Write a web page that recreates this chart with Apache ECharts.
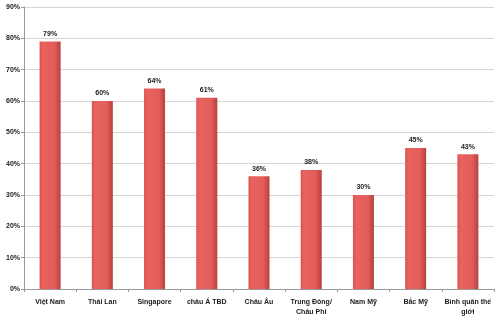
<!DOCTYPE html>
<html><head><meta charset="utf-8">
<script src="https://cdn.jsdelivr.net/npm/echarts@6/dist/echarts.min.js"></script>
<style>html,body{margin:0;padding:0;background:#fff}#c{width:500px;height:317px}</style>
</head><body><div id="c"></div>
<script>
const categories = ['Việt Nam','Thái Lan','Singapore','châu Á TBD','Châu Âu','Trung Đông/\nChâu Phi','Nam Mỹ','Bắc Mỹ','Bình quân thế\ngiới'];
const values = [79,60,64,61,36,38,30,45,43];
const yTicks = [0,10,20,30,40,50,60,70,80,90];

const chart = echarts.init(document.getElementById('c'), null, {renderer:'canvas'});
chart.setOption({
  animation:false,
  grid:{left:24,right:6,top:7,bottom:28,containLabel:false},
  xAxis:{type:'category',data:categories,boundaryGap:true,
    axisLine:{lineStyle:{color:'#9a9a9a',width:1}},
    axisTick:{show:true,interval:0,length:3,lineStyle:{color:'#9a9a9a'}},
    axisLabel:{interval:0,color:'#222',fontSize:7,fontWeight:'bold',fontFamily:'Liberation Sans, Arial',margin:8,lineHeight:10}},
  yAxis:{type:'value',min:yTicks[0],max:yTicks[yTicks.length-1],interval:10,
    axisLine:{show:true,lineStyle:{color:'#9a9a9a'}},
    axisTick:{show:true,length:3,lineStyle:{color:'#9a9a9a'}},
    splitLine:{lineStyle:{color:'#d6d6d6',width:1}},
    axisLabel:{formatter:'{value}%',color:'#222',fontSize:7,fontWeight:'bold',fontFamily:'Liberation Sans, Arial',margin:4}},
  series:[{type:'bar',data:values,barWidth:21,
    itemStyle:{color:new echarts.graphic.LinearGradient(0,0,1,0,[
      {offset:0,color:'#d9524f'},{offset:0.15,color:'#e8625e'},{offset:0.7,color:'#e35e5b'},{offset:1,color:'#b8403d'}])},
    label:{show:true,position:'top',formatter:'{c}%',color:'#222',fontSize:7,fontWeight:'bold',fontFamily:'Liberation Sans, Arial',distance:4}}]
});
</script></body></html>
